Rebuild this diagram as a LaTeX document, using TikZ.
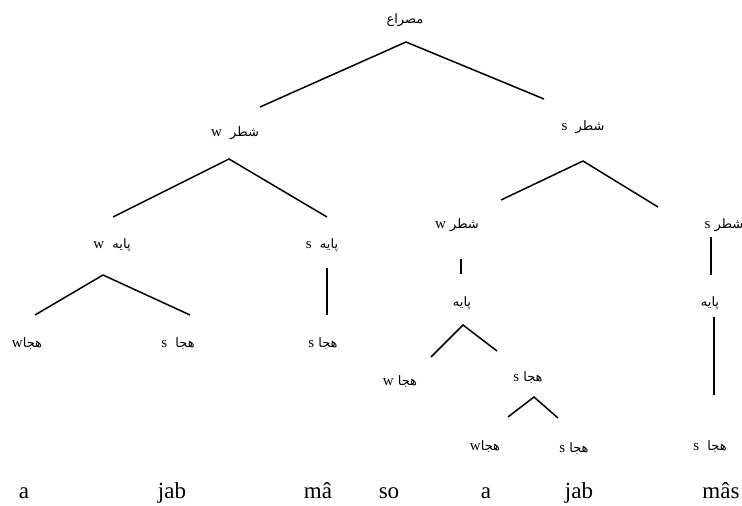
\documentclass[tikz,border=0pt]{standalone}
\usepackage{fontspec}
\setmainfont{Liberation Serif}
\newfontfamily\arabicfont[Script=Arabic]{DejaVu Sans}
\TeXXeTstate=1
\usepackage{tikz}

% label: arabic word, then latin w/s on its left
\newcommand{\rtl}[2]{{\arabicfont\beginR #1{\rmfamily\fontsize{15}{15}\selectfont #2}\endR}}

\begin{document}
\begin{tikzpicture}[x=1pt, y=-1pt,
        lbl/.style={font=\arabicfont\fontsize{13}{15}\selectfont, inner sep=1pt},
        word/.style={font=\fontsize{23}{26}\selectfont, anchor=base, inner sep=0pt},
        edge/.style={line width=1.5pt}]
    \useasboundingbox (0,0) rectangle (742,506);

    \node[lbl] (root) at (405,20) {\rtl{مصراع}{}};
    \node[lbl] (shw) at (235,133) {\rtl{شطر~~}{w}};
    \node[lbl] (shs) at (583,127) {\rtl{شطر~~}{s}};
    \node[lbl] (pw) at (112,245) {\rtl{پایه~~}{w}};
    \node[lbl] (ps) at (322,245) {\rtl{پایه~~}{s}};
    \node[lbl] (shw2) at (457,225) {\rtl{شطر~}{w}};
    \node[lbl] (shs2) at (724,225) {\rtl{شطر~}{s}};
    \node[lbl] (pa) at (462,303) {\rtl{پایه}{}};
    \node[lbl] (pb) at (710,303) {\rtl{پایه}{}};
    \node[lbl] (hw1) at (27,344) {\rtl{هجا}{w}};
    \node[lbl] (hs1) at (178,344) {\rtl{هجا~~}{s}};
    \node[lbl] (hs2) at (323,344) {\rtl{هجا~}{s}};
    \node[lbl] (hw3) at (400,382) {\rtl{هجا~}{w}};
    \node[lbl] (hs3) at (528,378) {\rtl{هجا~}{s}};
    \node[lbl] (hw4) at (485,447) {\rtl{هجا}{w}};
    \node[lbl] (hs4) at (574,449) {\rtl{هجا~}{s}};
    \node[lbl] (hs5) at (710,447) {\rtl{هجا~~}{s}};

    \node[word] (a1) at (24,498) {a};
    \node[word] (jab1) at (172,498) {jab};
    \node[word] (ma) at (318,498) {mâ};
    \node[word] (so) at (389,498) {so};
    \node[word] (a2) at (486,498) {a};
    \node[word] (jab2) at (579,498) {jab};
    \node[word] (mas) at (721,498) {mâs};

    \draw[edge] ([shift={(25,-26)}]shw.center) -- ([shift={(1,22)}]root.center)
        -- ([shift={(-39,-28)}]shs.center);
    \draw[edge] ([shift={(1,-28)}]pw.center) -- ([shift={(-6,26)}]shw.center)
        -- ([shift={(5,-28)}]ps.center);
    \draw[edge] ([shift={(44,-25)}]shw2.center) -- ([shift={(0,34)}]shs.center)
        -- ([shift={(-66,-18)}]shs2.center);
    \draw[edge] ([shift={(4,34)}]shw2.center) -- ([shift={(-1,-29)}]pa.center);
    \draw[edge] ([shift={(-13,12)}]shs2.center) -- ([shift={(1,-28)}]pb.center);
    \draw[edge] ([shift={(8,-29)}]hw1.center) -- ([shift={(-9,30)}]pw.center)
        -- ([shift={(12,-29)}]hs1.center);
    \draw[edge] ([shift={(5,23)}]ps.center) -- ([shift={(4,-29)}]hs2.center);
    \draw[edge] ([shift={(31,-25)}]hw3.center) -- ([shift={(1,22)}]pa.center)
        -- ([shift={(-31,-27)}]hs3.center);
    \draw[edge] ([shift={(23,-30)}]hw4.center) -- ([shift={(6,19)}]hs3.center)
        -- ([shift={(-16,-31)}]hs4.center);
    \draw[edge] ([shift={(4,14)}]pb.center) -- ([shift={(4,-52)}]hs5.center);
\end{tikzpicture}
\end{document}
